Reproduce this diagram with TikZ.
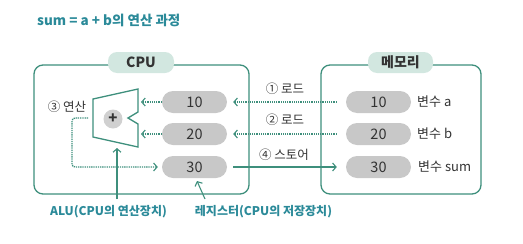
\documentclass[tikz,border=0pt]{standalone}
\usepackage{fontspec}
\setmainfont{Noto Sans CJK KR}
\usetikzlibrary{arrows.meta}
\definecolor{boxc}{HTML}{3E8F7C}
\definecolor{titc}{HTML}{2B8A99}
\definecolor{pillc}{HTML}{C8C8C8}
\definecolor{labfill}{HTML}{D2E7E0}
\definecolor{txt}{HTML}{333333}
\begin{document}
\begin{tikzpicture}[x=1pt,y=-1pt,
  frame/.style={draw=boxc,line width=1.3pt,rounded corners=9pt,inner sep=0pt},
  lab/.style={fill=labfill,rounded corners=9pt,minimum height=21pt,inner sep=0pt,font=\fontsize{14}{14}\selectfont\bfseries,text=txt},
  pill/.style={fill=pillc,rounded corners=11pt,minimum width=65pt,minimum height=22pt,inner sep=0pt,font=\fontsize{14.5}{14}\selectfont,text=txt},
  side/.style={anchor=west,inner sep=0pt,font=\fontsize{13}{13}\selectfont,text=txt},
  steplbl/.style={inner sep=0pt,font=\fontsize{12.5}{13}\selectfont,text=txt},
  note/.style={inner sep=0pt,font=\fontsize{12}{12}\selectfont\bfseries,text=titc},
  dotarrow/.style={draw=boxc,line width=1.3pt,dash pattern=on 1.3pt off 0.9pt,-{Straight Barb[length=3.5pt,width=8pt,line width=1.1pt]}},
  solarrow/.style={draw=boxc,line width=1.1pt,-{Straight Barb[length=3.5pt,width=8pt,line width=1.1pt]}}
]
\useasboundingbox (0,0) rectangle (523,244);
\node[anchor=west,inner sep=0pt,font=\fontsize{13.5}{14}\selectfont\bfseries,text=titc] (title) at (37,20) {sum = a + b의 연산 과정};

% frames
\node[frame,minimum width=215pt,minimum height=129pt] (cpu) at (141.5,129.5) {};
\node[frame,minimum width=160pt,minimum height=129pt] (mem) at (401,129.5) {};
\node[lab,minimum width=66pt] (cpulab) at (141,62.5) {CPU};
\node[lab,minimum width=65pt] (memlab) at (400.5,62.5) {메모리};

% registers
\node[pill] (r1) at (194.5,102) {10};
\node[pill] (r2) at (194.5,134) {20};
\node[pill] (r3) at (194.5,167) {30};
% memory cells
\node[pill] (m1) at (378.5,102) {10};
\node[pill] (m2) at (378.5,134) {20};
\node[pill] (m3) at (378.5,167) {30};
\node[side] (va) at (417,102) {변수 a};
\node[side] (vb) at (417,134) {변수 b};
\node[side] (vs) at (418,167) {변수 sum};

% ALU
\draw[boxc,line width=1.3pt,line join=miter] (93,99) coordinate (aluTL) -- (138,89) -- (138,112) -- (128,118) -- (138,124) -- (138,147) -- (93,137) -- cycle;
\coordinate (aluB) at (117,143);
\coordinate (alu1) at (141,102);
\coordinate (alu2) at (141,134);
\node[circle,fill=pillc!85,minimum size=19pt,inner sep=0pt,font=\fontsize{15}{15}\selectfont\bfseries,text=txt] (plus) at (113,119) {+};

% steps
\node[steplbl] (s3) at (67,107) {③ 연산};
\node[steplbl] (s1) at (285,89) {① 로드};
\node[steplbl] (s2) at (285,120) {② 로드};
\node[steplbl] (s4) at (284,155) {④ 스토어};

% arrows
\draw[dotarrow] (r1.west) -- (alu1);
\draw[dotarrow] (r2.west) -- (alu2);
\draw[dotarrow,shorten <=9pt,shorten >=6pt] (m1.west) -- (r1.east);
\draw[dotarrow,shorten <=9pt,shorten >=6pt] (m2.west) -- (r2.east);
\draw[solarrow,shorten <=6pt,shorten >=9pt] (r3.east) -- (m3.west);
\coordinate (loopS) at (88,118);
\draw[dotarrow,rounded corners=3pt,shorten >=4pt] (loopS) -- (72,118) -- (72,167) -- (r3.west);

% bottom notes
\node[note] (nalu) at (108.5,212) {ALU(CPU의 연산장치)};
\node[note] (nreg) at (263.5,212) {레지스터(CPU의 저장장치)};
\coordinate (aluLine) at (117,199);
\coordinate (regLine) at (205,199);
\draw[solarrow] (aluLine) -- (aluB |- 0,148);
\draw[solarrow] (regLine) -- (197,181);
\end{tikzpicture}
\end{document}
